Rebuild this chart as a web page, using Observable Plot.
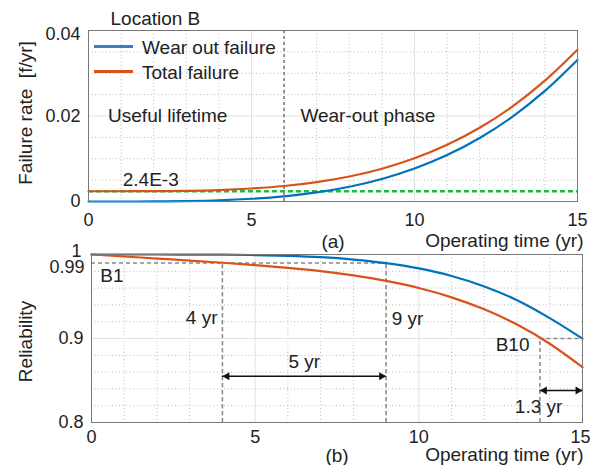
<!DOCTYPE html>
<html><head><meta charset="utf-8">
<script src="https://cdn.jsdelivr.net/npm/d3@7"></script>
<script src="https://cdn.jsdelivr.net/npm/@observablehq/plot@0.6"></script>
<style>
body{margin:0;background:#fff;font-family:"Liberation Sans",Arial,sans-serif;color:#222;}
#wrap{position:relative;width:591px;height:465px;overflow:hidden;}
#a,#b{position:absolute;left:0;}
#a{top:0;} #b{top:232px;}
.lg{position:absolute;font-size:19px;line-height:1;color:#222;white-space:nowrap;}
.sw{position:absolute;width:39px;height:2.5px;}
</style></head><body>
<div id="wrap"><div id="a"></div><div id="b"></div>
<div class="sw" style="left:94px;top:45px;background:#3f7cc4"></div>
<div class="lg" style="left:142px;top:38px">Wear out failure</div>
<div class="sw" style="left:94px;top:70px;background:#d95319"></div>
<div class="lg" style="left:142px;top:63px">Total failure</div>
</div>
<script>
// ---- data ----
const years      = [0,1,2,3,4,5,6,7,8,9,10,11,12,13,14,15];
const wearRate   = [0,0,0.00002,0.0001,0.00028,0.00064,0.00122,0.00213,0.00345,0.00527,0.0077,0.01085,0.01484,0.0198,0.02586,0.0331];
const totalRate  = [0.0024,0.0024,0.00242,0.0025,0.00268,0.00304,0.00362,0.00453,0.00585,0.00767,0.0101,0.01325,0.01724,0.0222,0.02826,0.0355];
const wearRel    = [1,1,1,0.9999,0.9998,0.9993,0.9984,0.9968,0.994,0.9897,0.9834,0.9744,0.962,0.9456,0.9243,0.8998];
const totalRel   = [1,0.9976,0.9952,0.9928,0.9902,0.9874,0.9841,0.9802,0.9751,0.9686,0.9601,0.949,0.9347,0.9166,0.8938,0.8658];
const constRate  = 0.0024;       // constant (useful-life) failure rate
const phaseStart = 6;            // start of wear-out phase (yr)
const b1Level = 0.99, b1Total = 4, b1Wear = 9;
const b10Level = 0.9, b10Total = 13.7, b10Wear = 15;
const xTicks = [0,5,10,15];
const xMinor = [1,2,3,4,6,7,8,9,11,12,13,14];
const yTicksA = [0,0.02];
const yTopA = [0.04];
const yMinorA = [0.005,0.01,0.015,0.025,0.03,0.035];
const yTicksB = [0.8,0.9];
const yMinorB = [0.82,0.84,0.86,0.88,0.92,0.94,0.96,0.98];

const BLUE = "#0072bd", ORANGE = "#d95319", GREEN = "#22b84a", GRAY = "#888", INK = "#222";
const wear  = years.map((t,i)=>({t, v: wearRate[i]}));
const total = years.map((t,i)=>({t, v: totalRate[i]}));
const wearR = years.map((t,i)=>({t, v: wearRel[i]}));
const totR  = years.map((t,i)=>({t, v: totalRel[i]}));
const style = {background:"transparent", fontSize:"19px", fontFamily:"'Liberation Sans', Arial, sans-serif", color:INK, overflow:"visible"};
const fmt = d => String(d);
const AX = {tickSize:0, label:null, tickFormat:fmt, fontSize:18};

const plotA = Plot.plot({
  width: 591, height: 250, marginLeft: 88, marginRight: 14, marginTop: 30, marginBottom: 49,
  style,
  x: {domain: [0,15]}, y: {domain: [0,0.04]},
  marks: [
    Plot.gridX(xMinor, {stroke:"#bbb", strokeOpacity:1, strokeDasharray:"1,2.5"}),
    Plot.gridY(yMinorA, {stroke:"#bbb", strokeOpacity:1, strokeDasharray:"1,2.5"}),
    Plot.gridX([5,10], {stroke:"#e2e2e2", strokeOpacity:1}),
    Plot.gridY([0.02], {stroke:"#e2e2e2", strokeOpacity:1}),
    Plot.ruleX([phaseStart], {stroke:"#777", strokeDasharray:"3,3", strokeWidth:1.5}),
    Plot.ruleY([constRate], {stroke:GREEN, strokeDasharray:"5,3", strokeWidth:2.5}),
    Plot.line(wear, {x:"t", y:"v", stroke:BLUE, strokeWidth:2.2, curve:"monotone-x"}),
    Plot.line(total, {x:"t", y:"v", stroke:ORANGE, strokeWidth:2.2, curve:"monotone-x"}),
    Plot.frame({stroke:"#777"}),
    Plot.axisX(xTicks, {...AX, tickPadding:12}),
    Plot.axisY(yTicksA, {...AX, tickPadding:8}),
    Plot.axisY(yTopA, {...AX, tickPadding:8, dy:4}),
    Plot.text(["Useful lifetime"], {x:0.6, y:0.02, textAnchor:"start", fill:INK}),
    Plot.text(["Wear-out phase"], {x:6.5, y:0.02, textAnchor:"start", fill:INK}),
    Plot.text(["2.4E-3"], {x:1.05, y:0.005, textAnchor:"start", fill:INK}),
    Plot.text(["Location B"], {frameAnchor:"top-left", dx:22, dy:-12, textAnchor:"start", lineAnchor:"middle", fill:INK}),
    Plot.text(["Failure rate\u00a0 [f/yr]"], {frameAnchor:"left", dx:-63, dy:-3, rotate:-90, textAnchor:"middle", lineAnchor:"middle", fill:INK}),
    Plot.text(["Operating time (yr)"], {frameAnchor:"bottom-right", dx:6, dy:39, textAnchor:"end", lineAnchor:"middle", fill:INK}),
    Plot.text(["(a)"], {frameAnchor:"bottom", dy:40, textAnchor:"middle", lineAnchor:"middle", fill:INK})
  ]
});
document.getElementById("a").appendChild(plotA);

const plotB = Plot.plot({
  width: 591, height: 233, marginLeft: 91, marginRight: 9, marginTop: 22, marginBottom: 43,
  style,
  x: {domain: [0,15]}, y: {domain: [0.8,1]},
  marks: [
    Plot.gridX(xMinor, {stroke:"#bbb", strokeOpacity:1, strokeDasharray:"1,2.5"}),
    Plot.gridY(yMinorB, {stroke:"#bbb", strokeOpacity:1, strokeDasharray:"1,2.5"}),
    Plot.gridX([5,10], {stroke:"#e2e2e2", strokeOpacity:1}),
    Plot.gridY([0.9], {stroke:"#e2e2e2", strokeOpacity:1}),
    // B1 guides
    Plot.ruleY([b1Level], {x1:0, x2:b1Wear, stroke:GRAY, strokeDasharray:"4,3", strokeWidth:1.5}),
    Plot.ruleX([b1Total, b1Wear], {y1:0.8, y2:b1Level, stroke:GRAY, strokeDasharray:"4,3", strokeWidth:1.5}),
    // B10 guides
    Plot.ruleY([b10Level], {x1:b10Total, x2:b10Wear, stroke:GRAY, strokeDasharray:"4,3", strokeWidth:1.5}),
    Plot.ruleX([b10Total], {y1:0.8, y2:b10Level, stroke:GRAY, strokeDasharray:"4,3", strokeWidth:1.5}),
    Plot.line(wearR, {x:"t", y:"v", stroke:BLUE, strokeWidth:2.2, curve:"monotone-x"}),
    Plot.line(totR, {x:"t", y:"v", stroke:ORANGE, strokeWidth:2.2, curve:"monotone-x"}),
    // arrows
    Plot.ruleY([0.855], {x1:b1Total, x2:b1Wear, stroke:"#111", strokeWidth:1.5}),
    Plot.dot([b1Total], {x:d=>d, y:0.855, symbol:"triangle", r:3, rotate:-90, dx:4.6, fill:"#111", stroke:null}),
    Plot.dot([b1Wear], {x:d=>d, y:0.855, symbol:"triangle", r:3, rotate:90, dx:-4.6, fill:"#111", stroke:null}),
    Plot.ruleY([0.838], {x1:b10Total, x2:b10Wear, stroke:"#111", strokeWidth:1.5}),
    Plot.dot([b10Total], {x:d=>d, y:0.838, symbol:"triangle", r:3, rotate:-90, dx:4.6, fill:"#111", stroke:null}),
    Plot.dot([b10Wear], {x:d=>d, y:0.838, symbol:"triangle", r:3, rotate:90, dx:-4.6, fill:"#111", stroke:null}),
    Plot.frame({stroke:"#777"}),
    Plot.axisX(xTicks.slice(0,3), {...AX, tickPadding:8}),
    Plot.axisX(xTicks.slice(3), {...AX, tickPadding:8, dx:-2}),
    Plot.axisY(yTicksB, {...AX, tickPadding:8}),
    Plot.axisY([1], {...AX, tickPadding:10, dy:-3}),
    Plot.axisY([b1Level], {...AX, tickPadding:7, dy:4}),
    Plot.text(["B1"], {x:0.27, y:0.975, textAnchor:"start", fill:INK}),
    Plot.text(["4 yr"], {x:3.85, y:0.924, textAnchor:"end", fill:INK}),
    Plot.text(["9 yr"], {x:9.17, y:0.923, textAnchor:"start", fill:INK}),
    Plot.text(["5 yr"], {x:6.5, y:0.872, fill:INK}),
    Plot.text(["B10"], {x:13.38, y:0.892, textAnchor:"end", fill:INK}),
    Plot.text(["1.3 yr"], {x:13.66, y:0.818, fill:INK}),
    Plot.text(["Reliability"], {frameAnchor:"left", dx:-66, dy:3, rotate:-90, textAnchor:"middle", lineAnchor:"middle", fill:INK}),
    Plot.text(["Operating time (yr)"], {frameAnchor:"bottom-right", dx:1, dy:32, textAnchor:"end", lineAnchor:"middle", fill:INK}),
    Plot.text(["(b)"], {frameAnchor:"bottom", dy:33, textAnchor:"middle", lineAnchor:"middle", fill:INK})
  ]
});
document.getElementById("b").appendChild(plotB);
</script>
</body></html>
